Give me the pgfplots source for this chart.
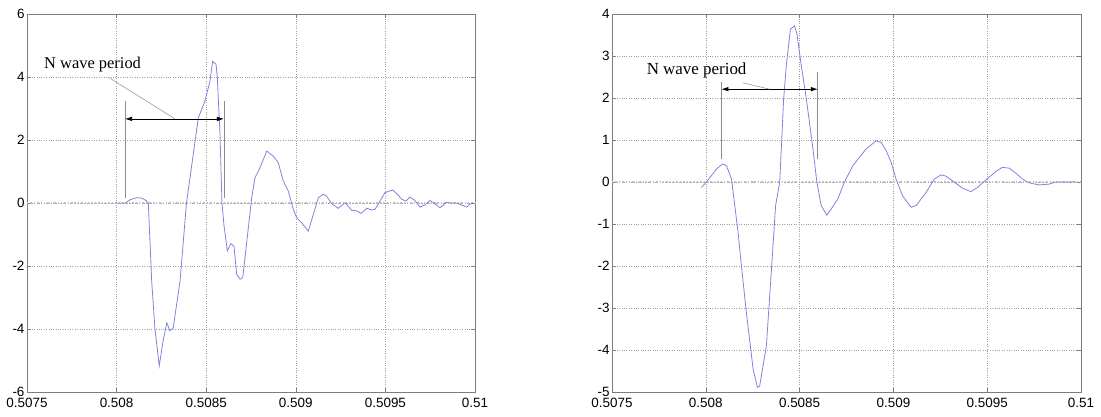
\documentclass[border=0pt]{standalone}
\usepackage{fontspec}
\setmainfont{Liberation Sans}
\newfontfamily\timesfont{Liberation Serif}
\usepackage{pgfplots}
\pgfplotsset{compat=1.18}
\usetikzlibrary{arrows.meta}
\definecolor{wave}{RGB}{130,130,220}
\definecolor{axgray}{RGB}{125,125,125}
\definecolor{gridgray}{RGB}{160,160,160}
\definecolor{markgray}{RGB}{140,140,140}

\pgfplotsset{
  npanel/.style={
    scale only axis, height=378bp,
    xmin=0.5075, xmax=0.51,
    xtick={0.5075,0.508,0.5085,0.509,0.5095,0.51},
    xticklabels={0.5075,0.508,0.5085,0.509,0.5095,0.51},
    scaled x ticks=false, scaled y ticks=false,
    grid=major,
    major grid style={gridgray, dotted, line width=0.6bp},
    axis line style={axgray, line width=0.8bp},
    every tick/.style={axgray, line width=0.6bp},
    tick align=inside, major tick length=4bp,
    xtick pos=both, ytick pos=both,
    ticklabel style={font=\fontsize{13.5}{14}\selectfont, black},
    xticklabel style={yshift=-3bp},
    yticklabel style={xshift=1bp},
    /pgf/number format/assume math mode=true,
    clip=false,
  },
  nwave/.style={wave, line width=0.8bp},
}

\begin{document}
\begin{tikzpicture}
% left panel
\begin{axis}[npanel, at={(27bp,25bp)}, anchor=south west, width=448bp,
    ymin=-6, ymax=6, ytick={-6,-4,-2,0,2,4,6}]
\draw[gridgray!70, line width=1.4bp, dotted] (axis cs:0.5075,0) -- (axis cs:0.51,0);
\addplot[nwave] coordinates {
 (0.507994,0) (0.508047,0) (0.508075,0.10) (0.508112,0.17) (0.508142,0.15)
 (0.508164,0.08) (0.508177,0) (0.508196,-2.5) (0.508214,-4.0) (0.508238,-5.17)
 (0.508259,-4.4) (0.508280,-3.8) (0.508298,-4.06) (0.508316,-3.96) (0.508354,-2.48)
 (0.508390,0) (0.508456,2.7) (0.508493,3.24) (0.508521,3.87) (0.508536,4.5)
 (0.508555,4.4) (0.508562,3.98) (0.508577,2.2) (0.508588,0) (0.508599,-0.7)
 (0.508618,-1.52) (0.508637,-1.29) (0.508655,-1.37) (0.508670,-2.26) (0.508689,-2.42)
 (0.508704,-2.37) (0.508754,0.17) (0.508772,0.8) (0.508800,1.12) (0.508838,1.65)
 (0.508874,1.49) (0.508902,1.28) (0.508930,0.7) (0.508958,0.38) (0.508986,-0.2)
 (0.509005,-0.47) (0.509033,-0.63) (0.509070,-0.89) (0.509098,-0.36) (0.509126,0.17)
 (0.509153,0.28) (0.509172,0.22) (0.509200,-0.02) (0.509237,-0.17) (0.509275,0.01)
 (0.509312,-0.23) (0.509340,-0.25) (0.509364,-0.33) (0.509396,-0.17) (0.509424,-0.22)
 (0.509442,-0.20) (0.509470,0.06) (0.509498,0.33) (0.509541,0.41) (0.509563,0.30)
 (0.509591,0.12) (0.509615,0.06) (0.509637,0.19) (0.509665,0.08) (0.509693,-0.13)
 (0.509721,-0.06) (0.509749,0.08) (0.509767,0.01) (0.509805,-0.15) (0.509842,0.02)
 (0.509870,0) (0.509898,0) (0.509954,-0.13) (0.509972,-0.04) (0.509991,0)
};
\draw[markgray, line width=0.8bp] (axis cs:0.508047,0.17) -- (axis cs:0.508047,3.24);
\draw[markgray, line width=0.8bp] (axis cs:0.508599,0.17) -- (axis cs:0.508599,3.24);
\draw[black, line width=0.6bp, {Latex[length=7bp,width=4.5bp]}-{Latex[length=7bp,width=4.5bp]}]
  (axis cs:0.508047,2.67) -- (axis cs:0.508599,2.67);
\draw[markgray, line width=0.5bp] (axis cs:0.507952,4.0) -- (axis cs:0.508326,2.67);
\node[font=\timesfont\fontsize{16.5}{18}\selectfont, inner sep=0pt]
  at (axis cs:0.507866,4.38) {N wave period};
\end{axis}
% right panel
\begin{axis}[npanel, at={(612bp,25bp)}, anchor=south west, width=469bp,
    ymin=-5, ymax=4, ytick={-5,-4,-3,-2,-1,0,1,2,3,4}]
\draw[gridgray!70, line width=1.4bp, dotted] (axis cs:0.5075,0) -- (axis cs:0.51,0);
\addplot[nwave] coordinates {
 (0.507977,-0.13) (0.508004,0) (0.508057,0.31) (0.508089,0.43) (0.508110,0.39)
 (0.508137,0.07) (0.508172,-1.2) (0.508190,-2.0) (0.508216,-3.1) (0.508252,-4.45)
 (0.508275,-4.89) (0.508287,-4.86) (0.508323,-3.9) (0.508349,-2.15) (0.508372,-0.56)
 (0.508394,0) (0.508415,1.98) (0.508429,2.77) (0.508451,3.64) (0.508473,3.72)
 (0.508486,3.52) (0.508509,2.77) (0.508536,1.98) (0.508571,0.79) (0.508592,0)
 (0.508615,-0.56) (0.508645,-0.79) (0.508669,-0.64) (0.508704,-0.40) (0.508739,0)
 (0.508784,0.39) (0.508819,0.59) (0.508855,0.79) (0.508908,0.98) (0.508935,0.94)
 (0.508961,0.75) (0.508988,0.47) (0.509014,0.07) (0.509049,-0.33) (0.509094,-0.60)
 (0.509121,-0.56) (0.509174,-0.25) (0.509218,0.07) (0.509254,0.17) (0.509280,0.14)
 (0.509324,0) (0.509369,-0.15) (0.509413,-0.23) (0.509448,-0.13) (0.509493,0.05)
 (0.509546,0.25) (0.509581,0.35) (0.509617,0.33) (0.509653,0.21) (0.509688,0.07)
 (0.509723,-0.02) (0.509777,-0.07) (0.509830,-0.05) (0.509865,0) (0.509919,0)
 (0.509972,0)
};
\draw[markgray, line width=0.8bp] (axis cs:0.508083,0.55) -- (axis cs:0.508083,2.37);
\draw[markgray, line width=0.8bp] (axis cs:0.508597,0.55) -- (axis cs:0.508597,2.63);
\draw[black, line width=0.6bp, {Latex[length=7bp,width=4.5bp]}-{Latex[length=7bp,width=4.5bp]}]
  (axis cs:0.508083,2.21) -- (axis cs:0.508597,2.21);
\draw[markgray, line width=0.5bp] (axis cs:0.508198,2.36) -- (axis cs:0.508340,2.21);
\node[font=\timesfont\fontsize{17}{19}\selectfont, inner sep=0pt]
  at (axis cs:0.507951,2.65) {N wave period};
\end{axis}
\pgfresetboundingbox
\path[use as bounding box] (0,0) rectangle (1101bp,417bp);
\end{tikzpicture}
\end{document}
